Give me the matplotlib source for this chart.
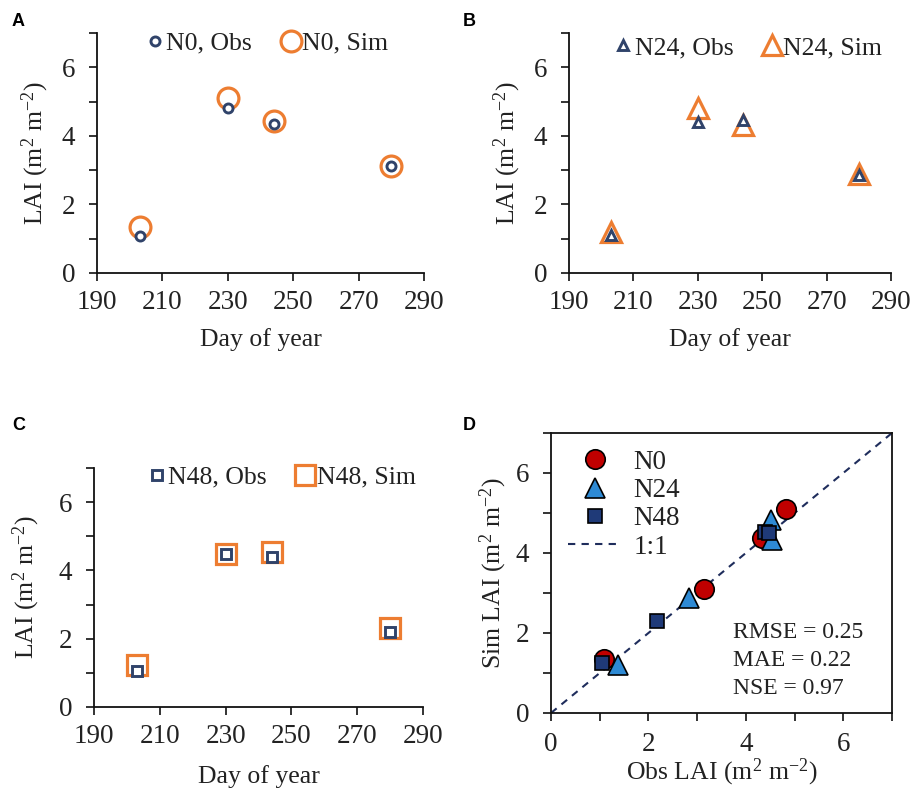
import numpy as np
import matplotlib
matplotlib.use('Agg')
import matplotlib.pyplot as plt
from matplotlib.ticker import MultipleLocator

plt.rcParams['font.family'] = ['Liberation Serif', 'DejaVu Serif']
plt.rcParams['mathtext.fontset'] = 'custom'
plt.rcParams['mathtext.rm'] = 'Liberation Serif'
plt.rcParams['mathtext.it'] = 'Liberation Serif:italic'

#data
doy = [203, 230, 244, 280]
doy_ticks = [190, 210, 230, 250, 270, 290]
n0_obs = [1.08, 4.82, 4.35, 3.12]
n0_sim = [1.35, 5.10, 4.42, 3.11]
n24_obs = [1.10, 4.41, 4.46, 2.86]
n24_sim = [1.21, 4.80, 4.31, 2.90]
n48_obs = [1.06, 4.48, 4.39, 2.19]
n48_sim = [1.23, 4.49, 4.54, 2.31]

#panel D (obs, sim) pairs
d_n0_obs = [1.09, 3.14, 4.34, 4.82]
d_n0_sim = [1.34, 3.09, 4.37, 5.10]
d_n24_obs = [1.37, 2.83, 4.51, 4.53]
d_n24_sim = [1.20, 2.87, 4.82, 4.33]
d_n48_obs = [1.05, 2.17, 4.39, 4.48]
d_n48_sim = [1.24, 2.31, 4.53, 4.49]
stats_txt = ['RMSE = 0.25', 'MAE = 0.22', 'NSE = 0.97']

obs_col = '#30436a'
sim_col = '#ed7d31'
txt_col = '#222222'
ylab = r'LAI (m$^{2}$ m$^{-2}$)'
FS_TICK = 19.5
FS_LAB = 18.5

fig = plt.figure(figsize=(9.12, 7.91), dpi=100)
W, H = 912, 791

def px_axes(l, r, t, b):
    return fig.add_axes([l/W, 1 - b/H, (r - l)/W, (b - t)/H])

def style(ax, box=False):
    for s in ['left', 'bottom', 'top', 'right']:
        ax.spines[s].set_linewidth(1.3)
        ax.spines[s].set_color('#111111')
    if not box:
        ax.spines['top'].set_visible(False)
        ax.spines['right'].set_visible(False)
    ax.tick_params(which='both', direction='out', length=5.5, width=1.2,
                   labelsize=FS_TICK, colors='#111111', labelcolor=txt_col)
    ax.tick_params(axis='x', which='both', pad=7)
    ax.tick_params(axis='y', which='both', pad=10)
    ax.yaxis.set_major_locator(MultipleLocator(2))
    ax.yaxis.set_minor_locator(MultipleLocator(1))

def letter(x, y, s):
    fig.text(x/W, 1 - y/H, s, fontsize=13, fontweight='bold',
             family='Liberation Sans', va='center', ha='left')

# letter, axes box (px), obs, sim, marker, name, legend anchor, letter pos, label pads
panels = [
    ('A', (97, 424, 33, 273), n0_obs, n0_sim, 'o', 'N0', (0.082, 0.958), (12, 22), (9, 8)),
    ('B', (569, 891, 33, 273), n24_obs, n24_sim, '^', 'N24', (0.072, 0.9375), (463, 22), (9, 8)),
    ('C', (94, 423, 468, 707), n48_obs, n48_sim, 's', 'N48', (0.097, 0.962), (12, 426), (11, 12)),
]

for let, box, obs, sim, mk, name, anchor, lpos, pads in panels:
    ax = px_axes(*box)
    style(ax)
    ax.plot(doy, sim, ls='none', marker=mk, ms=15, mfc='white',
            mec=sim_col, mew=2.3, label=f'{name}, Sim', zorder=3)
    ax.plot(doy, obs, ls='none', marker=mk, ms=6.5, mfc='white',
            mec=obs_col, mew=2.1, label=f'{name}, Obs', zorder=4)
    ax.set_xlim(190, 290)
    ax.set_ylim(0, 7)
    ax.set_xticks(doy_ticks)
    ax.set_xlabel('Day of year', fontsize=FS_LAB, color=txt_col, labelpad=pads[0])
    ax.set_ylabel(ylab, fontsize=FS_LAB, color=txt_col, labelpad=pads[1])
    h, l = ax.get_legend_handles_labels()
    ax.legend(h[::-1], l[::-1], ncol=2, loc='center left',
              bbox_to_anchor=anchor, frameon=False, fontsize=FS_LAB,
              handlelength=0.6, handletextpad=0.15, columnspacing=1.2,
              borderpad=0.4, labelcolor=txt_col)
    letter(*lpos, let)

#panel D
ax = px_axes(551, 892, 433, 713)
style(ax, box=True)
ax.tick_params(axis='x', which='both', pad=8)
ax.xaxis.set_major_locator(MultipleLocator(2))
ax.xaxis.set_minor_locator(MultipleLocator(1))
ax.plot([0, 7], [0, 7], ls=(0, (3.5, 3)), color='#1f2d5c', lw=1.5,
        label='1:1', zorder=2)
ax.plot(d_n0_obs, d_n0_sim, ls='none', marker='o', ms=14, mfc='#c00000',
        mec='black', mew=1.2, label='N0', zorder=3)
ax.plot(d_n24_obs, d_n24_sim, ls='none', marker='^', ms=14, mfc='#2e8ad4',
        mec='black', mew=1.2, label='N24', zorder=4)
ax.plot(d_n48_obs, d_n48_sim, ls='none', marker='s', ms=9.5, mfc='#1f3a78',
        mec='black', mew=1.2, label='N48', zorder=5)
ax.set_xlim(0, 7)
ax.set_ylim(0, 7)
ax.set_xlabel(r'Obs LAI (m$^{2}$ m$^{-2}$)', fontsize=FS_LAB, color=txt_col, labelpad=0)
ax.set_ylabel(r'Sim LAI (m$^{2}$ m$^{-2}$)', fontsize=FS_LAB, color=txt_col, labelpad=5)
h, l = ax.get_legend_handles_labels()
ax.legend(h[1:] + h[:1], l[1:] + l[:1], loc='upper left', frameon=False,
          fontsize=19.5, handlelength=2.0, handletextpad=0.42,
          labelspacing=0.12, borderpad=0.0, borderaxespad=0.0,
          bbox_to_anchor=(0.05, 0.94), labelcolor=txt_col)
for i, s in enumerate(stats_txt):
    ax.text(3.73, 2.0 - 0.69*i, s, fontsize=17, color=txt_col,
            va='center', ha='left')
letter(463, 426, 'D')

fig.savefig('out.png', dpi=100)
